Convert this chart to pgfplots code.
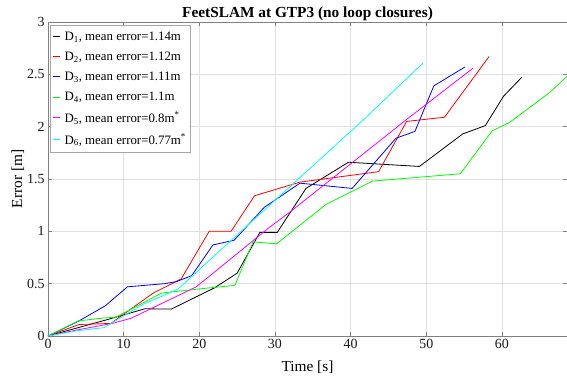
\documentclass[border=0pt]{standalone}
\usepackage{fontspec}
\setmainfont{Liberation Serif}
\usepackage{pgfplots}
\pgfplotsset{compat=1.18}
\definecolor{mred}{rgb}{1,0,0}
\definecolor{mblue}{rgb}{0,0,1}
\definecolor{mgreen}{rgb}{0,1,0}
\definecolor{mmag}{rgb}{1,0,1}
\definecolor{mcyan}{rgb}{0,1,1}
\begin{document}
\begin{tikzpicture}
\begin{axis}[
 scale only axis, width=519bp, height=314bp,
 xmin=0, xmax=68.6, ymin=0, ymax=3,
 xtick={0,10,...,60}, ytick={0,0.5,1,1.5,2,2.5,3},
 yticklabels={0,0.5,1,1.5,2,2.5,3},
 grid=major, major grid style={color=black!12, line width=0.5bp},
 axis line style={color=black!50, line width=0.6bp},
 tick style={color=black!50, line width=0.5bp}, tick align=inside, major tick length=4bp,
 ticklabel style={font=\fontsize{14}{14}\selectfont, color=black!90},
 /pgf/number format/assume math mode=true,
 xlabel={Time [s]}, ylabel={Error [m]},
 label style={font=\fontsize{15.4}{15.4}\selectfont},
 xlabel style={yshift=-5bp},
 ylabel style={yshift=-4bp},
 title={FeetSLAM at GTP3 (no loop closures)},
 every axis title/.style={font=\fontsize{15.4}{15.4}\selectfont\bfseries, at={(0.5,1)}, anchor=south, yshift=-2.5bp},
 legend style={at={(0,1)}, anchor=north west, xshift=2bp, yshift=-3bp, draw=black!35, line width=0.5bp,
   font=\fontsize{12.9}{12.9}\selectfont, inner xsep=2.5bp, inner ysep=4.5bp, row sep=6.1bp, cells={anchor=west}},
 legend image code/.code={\draw[mark repeat=2,mark phase=2,#1] plot coordinates {(0bp,0bp) (3.5bp,0bp) (7bp,0bp)}; \path (9bp,0bp);},
 legend cell align=left,
 every axis plot/.append style={line width=0.8bp},
]
\addplot[black] coordinates {(0,0) (4,0.08) (8,0.16) (12.8,0.26) (16.3,0.257) (22.0,0.46) (25.0,0.60) (28.0,0.99) (30.3,0.99) (34.1,1.41) (39.7,1.66) (49.1,1.62) (54.8,1.93) (57.8,2.01) (60.2,2.29) (62.6,2.47)};
\addlegendentry{D\textsubscript{1}, mean error=1.14m}
\addplot[mred] coordinates {(0,0) (4.1,0.11) (8.3,0.12) (13.9,0.41) (17.6,0.545) (21.3,1.0) (24.2,1.0) (27.3,1.34) (33.3,1.47) (43.7,1.57) (47.4,2.05) (52.4,2.09) (58.3,2.67)};
\addlegendentry{D\textsubscript{2}, mean error=1.12m}
\addplot[mblue] coordinates {(0,0) (4,0.14) (7.6,0.29) (10.5,0.47) (15.4,0.50) (17,0.52) (19.0,0.577) (21.8,0.87) (24.6,0.915) (28.6,1.23) (33.3,1.46) (40.2,1.41) (46.0,1.89) (48.5,1.955) (51.0,2.39) (55.1,2.57)};
\addlegendentry{D\textsubscript{3}, mean error=1.11m}
\addplot[mgreen] coordinates {(0,0) (4.0,0.144) (7.1,0.17) (9,0.18) (15.0,0.41) (20,0.45) (24.7,0.484) (27.1,0.90) (30.2,0.88) (36.8,1.26) (42.9,1.48) (54.5,1.55) (58.7,1.96) (61.0,2.04) (66.2,2.32) (68.6,2.48)};
\addlegendentry{D\textsubscript{4}, mean error=1.1m}
\addplot[mmag] coordinates {(0,0) (4,0.06) (8.5,0.12) (11,0.17) (19.6,0.47) (29.3,1.04) (31.9,1.18) (47.6,2.08) (56.2,2.56)};
\addlegendentry{D\textsubscript{5}, mean error=0.8m\textsuperscript{*}}
\addplot[mcyan] coordinates {(0,0) (3.9,0.05) (7.4,0.08) (12.5,0.30) (17.2,0.45) (29.3,1.25) (41.9,2.08) (49.6,2.61)};
\addlegendentry{D\textsubscript{6}, mean error=0.77m\textsuperscript{*}}
\end{axis}
\pgfresetboundingbox
\path[use as bounding box] ([xshift=-48bp,yshift=-42bp]current axis.south west) rectangle ([yshift=22bp]current axis.north east);
\end{tikzpicture}
\end{document}
